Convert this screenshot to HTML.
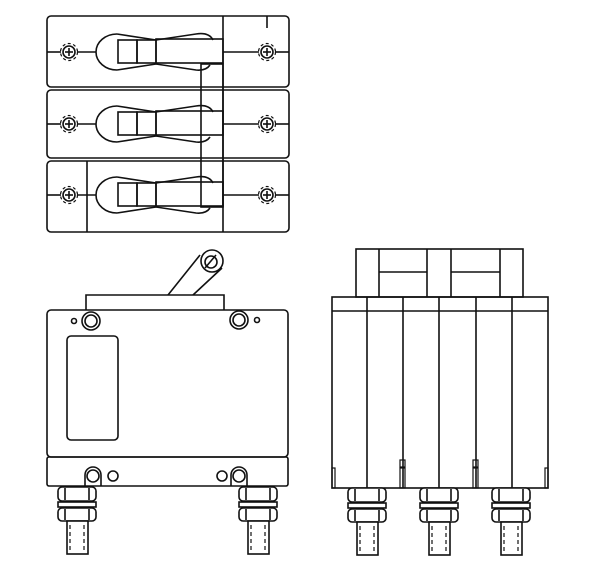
<!DOCTYPE html>
<html><head><meta charset="utf-8"><style>html,body{margin:0;padding:0;background:#fff}svg{display:block}</style></head>
<body>
<svg width="600" height="573" viewBox="0 0 600 573" xmlns="http://www.w3.org/2000/svg" fill="none" stroke="#111" stroke-width="1.6">
<defs>
<g id="term">
  <rect x="-19" y="0" width="38" height="14" rx="4" fill="#fff"/>
  <line x1="-12" y1="1" x2="-12" y2="13"/><line x1="12" y1="1" x2="12" y2="13"/>
  <rect x="-19" y="15" width="38" height="5" fill="#fff"/>
  <rect x="-19" y="21" width="38" height="13" rx="4" fill="#fff"/>
  <line x1="-12" y1="22" x2="-12" y2="33"/><line x1="12" y1="22" x2="12" y2="33"/>
  <rect x="-10" y="34" width="21" height="33" fill="#fff"/>
  <line x1="-7" y1="38" x2="-7" y2="64" stroke-dasharray="4,3" stroke-width="1.2"/>
  <line x1="7" y1="38" x2="7" y2="64" stroke-dasharray="4,3" stroke-width="1.2"/>
</g>
<g id="screw">
  <circle r="6"/>
  <circle r="8.5" stroke-dasharray="3,2.5" stroke-width="1.2"/>
  <line x1="-4" y1="0" x2="4" y2="0"/><line x1="0" y1="-4" x2="0" y2="4"/>
</g>
<g id="tog">
  <path d="M117,-18 A21,18 0 0 0 117,18"/>
  <path d="M117,-18 L156,-12 L196,-18 Q209,-20 213,-12"/>
  <path d="M117,18 L156,12 L196,18 Q206,19 210,13"/>
  <rect x="118" y="-12" width="19" height="23"/>
  <rect x="137" y="-12" width="19" height="23"/>
  <rect x="156" y="-13" width="67" height="24"/>
</g>
</defs>

<!-- top view -->
<rect x="47" y="16" width="242" height="71" rx="4"/>
<rect x="47" y="90" width="242" height="68" rx="4"/>
<rect x="47" y="161" width="242" height="71" rx="4"/>
<line x1="223" y1="16" x2="223" y2="232"/>
<line x1="87" y1="161" x2="87" y2="232"/>
<line x1="267" y1="16" x2="267" y2="28"/>
<g transform="translate(0,52)"><use href="#tog"/></g>
<g transform="translate(0,124)"><use href="#tog"/></g>
<g transform="translate(0,195)"><use href="#tog"/></g>
<rect x="201" y="64" width="22" height="143"/>
<g>
<line x1="47" y1="52" x2="61" y2="52"/><line x1="77" y1="52" x2="96" y2="52"/>
<line x1="47" y1="124" x2="61" y2="124"/><line x1="77" y1="124" x2="96" y2="124"/>
<line x1="47" y1="195" x2="61" y2="195"/><line x1="77" y1="195" x2="96" y2="195"/>
<line x1="223" y1="52" x2="259" y2="52"/><line x1="275" y1="52" x2="289" y2="52"/>
<line x1="223" y1="124" x2="259" y2="124"/><line x1="275" y1="124" x2="289" y2="124"/>
<line x1="223" y1="195" x2="259" y2="195"/><line x1="275" y1="195" x2="289" y2="195"/>
</g>
<use href="#screw" x="69" y="52"/><use href="#screw" x="69" y="124"/><use href="#screw" x="69" y="195"/>
<use href="#screw" x="267" y="52"/><use href="#screw" x="267" y="124"/><use href="#screw" x="267" y="195"/>

<!-- front view -->
<path d="M168,295 L200,255 M193,295 L222,268"/>
<circle cx="212" cy="261" r="11" fill="#fff"/>
<circle cx="211" cy="262" r="6"/>
<line x1="205" y1="268" x2="216" y2="255"/>
<path d="M86,310 L86,295 L224,295 L224,310"/>
<rect x="47" y="310" width="241" height="147" rx="4"/>
<rect x="47" y="457" width="241" height="29" rx="2"/>
<circle cx="91" cy="321" r="9" fill="#fff"/><circle cx="91" cy="321" r="6"/>
<circle cx="74" cy="321" r="2.5"/>
<circle cx="239" cy="320" r="9" fill="#fff"/><circle cx="239" cy="320" r="6"/>
<circle cx="257" cy="320" r="2.5"/>
<rect x="67" y="336" width="51" height="104" rx="4"/>
<path d="M85,486 L85,475 A8,8 0 0 1 101,475 L101,486"/><circle cx="93" cy="476" r="6"/><circle cx="113" cy="476" r="5"/>
<path d="M231,486 L231,475 A8,8 0 0 1 247,475 L247,486"/><circle cx="239" cy="476" r="6"/><circle cx="222" cy="476" r="5"/>
<use href="#term" x="77" y="487"/>
<use href="#term" x="258" y="487"/>

<!-- side view -->
<rect x="356" y="249" width="167" height="48"/>
<line x1="379" y1="249" x2="379" y2="297"/><line x1="427" y1="249" x2="427" y2="297"/>
<line x1="451" y1="249" x2="451" y2="297"/><line x1="500" y1="249" x2="500" y2="297"/>
<line x1="379" y1="272" x2="427" y2="272"/><line x1="451" y1="272" x2="500" y2="272"/>
<rect x="332" y="297" width="216" height="191"/>
<line x1="332" y1="311" x2="548" y2="311"/>
<line x1="367" y1="297" x2="367" y2="488"/><line x1="403" y1="297" x2="403" y2="488"/>
<line x1="439" y1="297" x2="439" y2="488"/><line x1="476" y1="297" x2="476" y2="488"/>
<line x1="512" y1="297" x2="512" y2="488"/>
<g stroke-width="1.2">
<rect x="332" y="468" width="3" height="20"/><rect x="545" y="468" width="3" height="20"/>
<rect x="400" y="460" width="5" height="7"/><rect x="400" y="468" width="5" height="20"/>
<rect x="473" y="460" width="5" height="7"/><rect x="473" y="468" width="5" height="20"/>
</g>
<use href="#term" x="367" y="488"/>
<use href="#term" x="439" y="488"/>
<use href="#term" x="511" y="488"/>
</svg>
</body></html>
